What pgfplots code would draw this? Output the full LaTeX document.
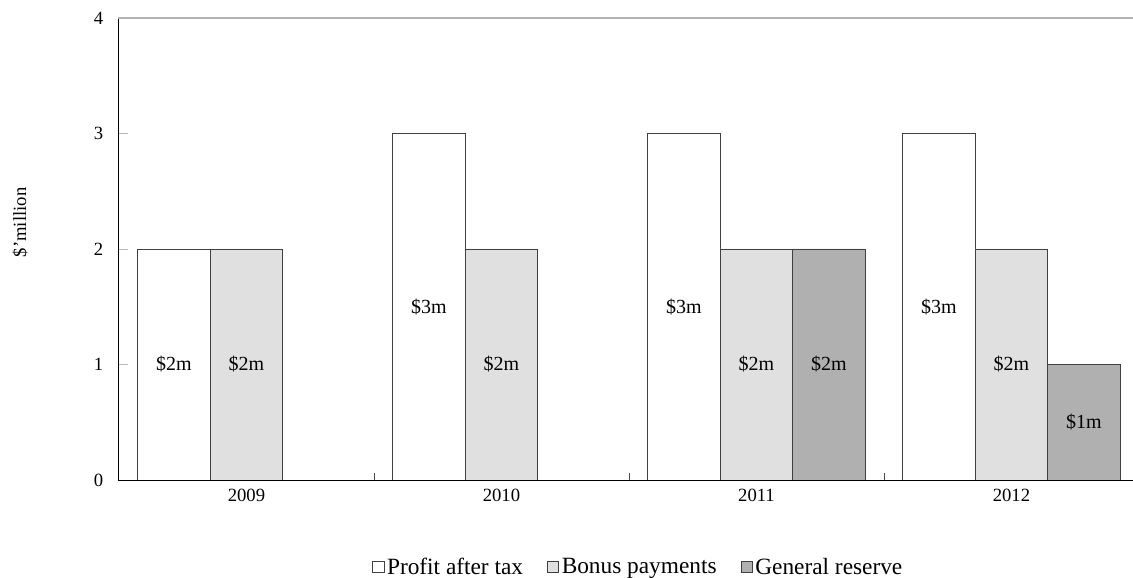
\documentclass[border=0pt]{standalone}
\usepackage{fontspec}
\setmainfont{Liberation Serif}
\usepackage{pgfplots}
\pgfplotsset{compat=1.18}
\usepackage{pgfplotstable}

\definecolor{bonus}{HTML}{E0E0E0}
\definecolor{reserve}{HTML}{B0B0B0}
\definecolor{barline}{HTML}{404040}

\pgfplotstableread{
x y
0 2
1 3
2 3
3 3
}\profit
\pgfplotstableread{
x y
0 2
1 2
2 2
3 2
}\bonuspay
\pgfplotstableread{
x y
2 2
3 1
}\genres
\pgfplotstableread{
x y label
-0.2843 1 {\$2m}
0 1 {\$2m}
0.7157 1.5 {\$3m}
1 1 {\$2m}
1.7157 1.5 {\$3m}
2 1 {\$2m}
2.2843 1 {\$2m}
2.7157 1.5 {\$3m}
3 1 {\$2m}
3.2843 0.5 {\$1m}
}\labels

\begin{document}
\begin{tikzpicture}
\begin{axis}[
  scale only axis, width=761.25pt, height=346.5pt,
  xmin=-0.5039, xmax=3.4765, ymin=0, ymax=4,
  axis x line*=bottom, axis y line*=left,
  axis line style={black, line width=0.6pt},
  tick align=inside,
  /pgf/number format/assume math mode=true,
  ytick={0,1,2,3,4},
  ytick style={draw=gray!55, line width=0.6pt, /pgfplots/major tick length=7.5pt},
  yticklabel style={font=\fontsize{14}{16}\selectfont, xshift=-7.5pt},
  xtick={0.5,1.5,2.5}, xticklabels={},
  xtick style={draw=black!70, line width=0.6pt, /pgfplots/major tick length=5.25pt},
  extra x ticks={0,1,2,3},
  extra x tick labels={2009,2010,2011,2012},
  extra x tick style={xtick style={draw=none, /pgfplots/major tick length=0pt}, xticklabel style={font=\fontsize{14}{16}\selectfont, yshift=-3pt}},
  extra y ticks={4}, extra y tick labels={},
  extra y tick style={ymajorgrids=true, major grid style={gray!60, line width=0.9pt}, ytick style={draw=none}},
  ylabel={\$'million},
  every axis y label/.style={at={([xshift=-73.5pt,yshift=20pt]axis description cs:0,0.5)}, rotate=90, anchor=center, font=\fontsize{14}{16}\selectfont},
  legend columns=3,
  legend style={draw=none, at={([yshift=-65.25pt]axis description cs:0.513,0)}, anchor=center,
    font=\fontsize{17.5}{20}\selectfont, /tikz/every even column/.append style={column sep=16pt}},
  legend image code/.code={\draw[#1,/tikz/.cd,line width=0.5pt] (0pt,-4.25pt) rectangle (8.5pt,4.25pt);},
]
\addplot[ybar, bar width=0.2843, bar shift=-0.2843, fill=white, draw=barline, line width=0.6pt] table[x=x,y=y]{\profit};
\addlegendentry{Profit after tax}
\addplot[ybar, bar width=0.2843, bar shift=0, fill=bonus, draw=barline, line width=0.6pt] table[x=x,y=y]{\bonuspay};
\addlegendentry{Bonus payments}
\addplot[ybar, bar width=0.2843, bar shift=0.2843, fill=reserve, draw=barline, line width=0.6pt] table[x=x,y=y]{\genres};
\addlegendentry{General reserve}
\addplot[forget plot, only marks, mark=*, mark size=0pt, mark options={draw=none, fill=none},
  nodes near coords, point meta=explicit symbolic,
  every node near coord/.style={anchor=center, font=\fontsize{15}{17}\selectfont, inner sep=0pt}]
  table[x=x,y=y,meta=label]{\labels};
\end{axis}
\pgfresetboundingbox
\path (-88.5pt,-73.5pt) rectangle (761.25pt,360pt);
\end{tikzpicture}
\end{document}
